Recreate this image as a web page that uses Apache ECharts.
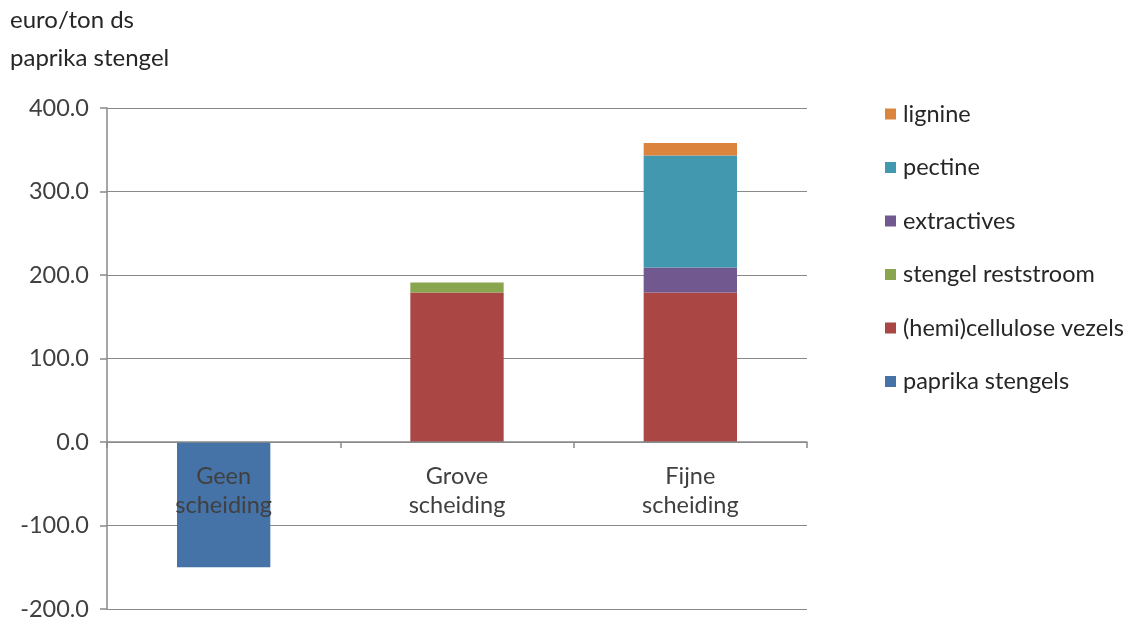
<!DOCTYPE html>
<html>
<head>
<meta charset="utf-8">
<script src="https://cdn.jsdelivr.net/npm/echarts@6/dist/echarts.min.js"></script>
<style>
html,body{margin:0;padding:0;background:#fff;}
#c{width:1130px;height:618px;}
</style>
</head>
<body>
<div id="c"></div>
<script>
var categories = ['Geen\nscheiding', 'Grove\nscheiding', 'Fijne\nscheiding'];
var paprikaStengels = [-150, null, null];
var hemiCellulose = [null, 179, 179];
var stengelReststroom = [null, 12, null];
var extractives = [null, null, 30];
var pectine = [null, null, 134];
var lignine = [null, null, 15];
var yTicks = [-200, 400, 100];

var FONT = 'Lato, "Open Sans", sans-serif';
var FS = 23.5;
var H = 618, GTOP = 108, GBOT = 9;
var plotH = H - GTOP - GBOT;
// distance of the zero line above the plot bottom
var zeroOffset = plotH * (0 - yTicks[0]) / (yTicks[1] - yTicks[0]);

var chart = echarts.init(document.getElementById('c'));
function s(name, data, color) {
  return {
    name: name, type: 'bar', stack: 'total', data: data, barWidth: '40%',
    itemStyle: { color: color }
  };
}
chart.setOption({
  animation: false,
  textStyle: { fontFamily: FONT },
  graphic: [
    { type: 'text', left: 10, top: 8, style: { text: 'euro/ton ds', font: '24px ' + FONT, fill: '#262626' } },
    { type: 'text', left: 10, top: 46, style: { text: 'paprika stengel', font: '24px ' + FONT, fill: '#262626' } }
  ],
  grid: { left: 107, right: 323, top: GTOP, bottom: GBOT, containLabel: false, outerBoundsMode: 'none' },
  legend: {
    orient: 'vertical', left: 880, top: 97, itemGap: 29.5, itemWidth: 11, itemHeight: 11,
    icon: 'rect',
    textStyle: { fontSize: FS, lineHeight: 24, color: '#262626', fontFamily: FONT, padding: [0, 0, 0, 2] },
    data: ['lignine', 'pectine', 'extractives', 'stengel reststroom', '(hemi)cellulose vezels', 'paprika stengels']
  },
  xAxis: {
    type: 'category', data: categories, z: 10,
    offset: -zeroOffset,
    axisLine: { onZero: false, lineStyle: { color: '#898989', width: 1.5 } },
    axisTick: { show: true, length: 6, lineStyle: { color: '#898989', width: 1.5 } },
    axisLabel: { fontSize: FS, color: '#404040', lineHeight: 29, margin: 20, fontFamily: FONT }
  },
  yAxis: {
    type: 'value', min: yTicks[0], max: yTicks[1], interval: yTicks[2],
    axisLine: { show: true, lineStyle: { color: '#898989', width: 1.5 } },
    axisTick: { show: true, length: 7, lineStyle: { color: '#898989', width: 1.5 } },
    splitLine: { lineStyle: { color: '#898989', width: 1.2 } },
    axisLabel: { fontSize: FS, color: '#404040', margin: 18, fontFamily: FONT,
      formatter: function (v) { return v.toFixed(1); } }
  },
  series: [
    s('paprika stengels', paprikaStengels, '#4572A7'),
    s('(hemi)cellulose vezels', hemiCellulose, '#AA4643'),
    s('stengel reststroom', stengelReststroom, '#89A54E'),
    s('extractives', extractives, '#71588F'),
    s('pectine', pectine, '#4198AF'),
    s('lignine', lignine, '#DB843D')
  ]
});
</script>
</body>
</html>
